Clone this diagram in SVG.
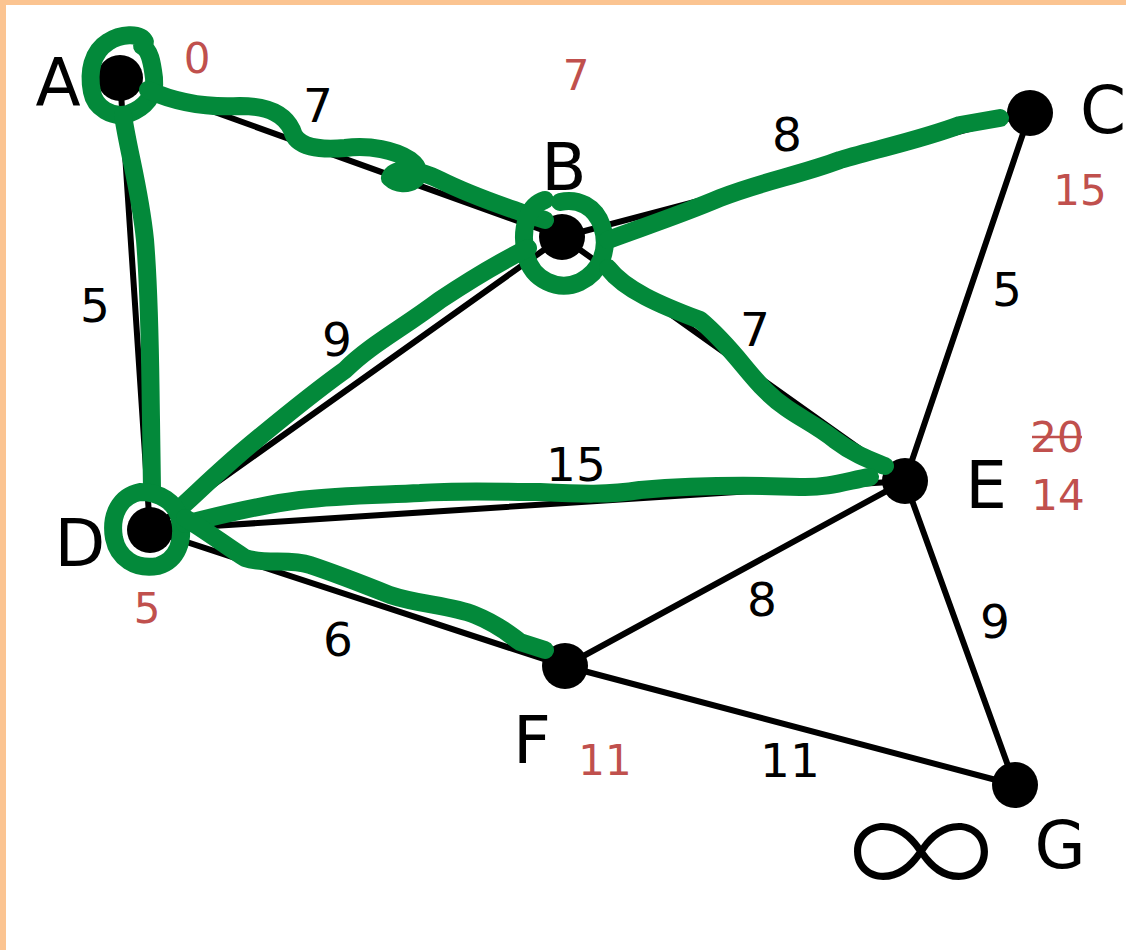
<svg xmlns="http://www.w3.org/2000/svg" width="1126" height="950" viewBox="0 0 1126 950">
<style>
.edge{stroke:#000;stroke-width:6;fill:none;stroke-linecap:round}
.node{fill:#000}
.lbl{font-family:"DejaVu Sans",sans-serif;font-size:66px;fill:#000;text-anchor:middle}
.w{font-family:"DejaVu Sans",sans-serif;font-size:47px;fill:#000;text-anchor:middle}
.d{font-family:"DejaVu Sans",sans-serif;font-size:42px;fill:#C0504D;text-anchor:middle}
.g{stroke:#03893A;stroke-width:18;fill:none;stroke-linecap:round;stroke-linejoin:round}
</style>
<rect x="0" y="0" width="1126" height="950" fill="#fff"/>
<rect x="0" y="0" width="1126" height="5" fill="#FBC491"/>
<rect x="0" y="0" width="6" height="950" fill="#FBC491"/>
<g id="connectors">
<line class="edge" x1="120" y1="78" x2="562" y2="237"/>
<line class="edge" x1="120" y1="78" x2="150" y2="530"/>
<line class="edge" x1="562" y1="237" x2="1030" y2="113"/>
<line class="edge" x1="562" y1="237" x2="150" y2="530"/>
<line class="edge" x1="562" y1="237" x2="905" y2="481"/>
<line class="edge" x1="1030" y1="113" x2="905" y2="481"/>
<line class="edge" x1="150" y1="530" x2="905" y2="481"/>
<line class="edge" x1="150" y1="530" x2="565" y2="666"/>
<line class="edge" x1="905" y1="481" x2="565" y2="666"/>
<line class="edge" x1="905" y1="481" x2="1015" y2="785"/>
<line class="edge" x1="565" y1="666" x2="1015" y2="785"/>
</g>
<g id="node-A"><circle class="node" cx="120" cy="78" r="23"/><text class="lbl" x="58" y="105">A</text><text class="d" x="197" y="73">0</text></g>
<g id="node-B"><circle class="node" cx="562" cy="237" r="23"/><text class="lbl" x="564" y="190">B</text><text class="d" x="576" y="90">7</text></g>
<g id="node-C"><circle class="node" cx="1030" cy="113" r="23"/><text class="lbl" x="1103" y="133">C</text><text class="d" x="1080" y="205">15</text></g>
<g id="node-D"><circle class="node" cx="150" cy="530" r="23"/><text class="lbl" x="80" y="566">D</text><text class="d" x="147" y="623">5</text></g>
<g id="node-E"><circle class="node" cx="905" cy="481" r="23"/><text class="lbl" x="986" y="508">E</text><text class="d" x="1057" y="452">20</text><line x1="1032" y1="437" x2="1082" y2="437" stroke="#C0504D" stroke-width="2.5"/><text class="d" x="1058" y="510">14</text></g>
<g id="node-F"><circle class="node" cx="565" cy="666" r="23"/><text class="lbl" x="532" y="763">F</text><text class="d" x="605" y="775">11</text></g>
<g id="node-G"><circle class="node" cx="1015" cy="785" r="23"/><text class="lbl" x="1060" y="868">G</text><text x="921" y="906" font-family="'Noto Sans CJK SC',sans-serif" font-weight="300" font-size="145" text-anchor="middle" fill="#000">∞</text></g>
<g id="weights">
<text class="w" x="318" y="122">7</text>
<text class="w" x="787" y="151">8</text>
<text class="w" x="95" y="322">5</text>
<text class="w" x="337" y="356">9</text>
<text class="w" x="755" y="346">7</text>
<text class="w" x="1007" y="306">5</text>
<text class="w" x="576" y="481">15</text>
<text class="w" x="762" y="616">8</text>
<text class="w" x="995" y="638">9</text>
<text class="w" x="338" y="656">6</text>
<text class="w" x="790" y="777">11</text>
</g>
<g id="green-path">
<path class="g" d="M145 42 C140 32 120 34 108 42 C92 52 88 72 92 92 C95 108 112 118 128 114 C145 108 156 95 154 78 C152 62 150 50 142 46"/>
<path class="g" d="M148 90 C175 102 205 108 240 106 C270 106 285 115 292 130 C296 148 320 150 345 148 C370 145 395 150 410 160 C432 176 405 192 390 178 C395 166 420 170 440 180 C470 195 500 205 520 212 L545 220"/>
<path class="g" d="M123 115 C128 150 140 190 145 240 C150 300 150 360 151 420 L152 490"/>
<path class="g" d="M545 200 C528 205 520 228 526 255 C532 280 558 292 580 282 C600 272 610 250 602 226 C595 206 578 198 560 202"/>
<path class="g" d="M608 240 C640 228 680 215 720 198 C760 182 800 175 840 160 C880 148 920 140 960 125 L1000 118"/>
<path class="g" d="M528 248 C500 262 470 280 440 300 C400 330 370 345 345 370 C310 395 280 420 250 445 C220 470 200 490 178 510"/>
<path class="g" d="M608 268 C625 290 660 305 700 320 C730 345 745 370 765 390 C790 415 810 420 835 440 C855 455 870 460 885 466"/>
<path class="g" d="M140 492 C120 496 110 515 114 538 C118 558 135 570 158 566 C178 560 184 540 180 520 C176 502 160 492 140 492"/>
<path class="g" d="M185 524 C220 515 260 505 300 500 C340 495 380 495 420 493 C460 490 500 492 540 492 C580 494 610 495 640 490 C700 485 750 485 800 487 C830 488 850 480 870 477"/>
<path class="g" d="M185 518 C205 530 225 545 245 558 C265 565 290 558 310 565 C340 575 365 585 390 595 C420 605 450 605 475 615 C500 625 510 635 520 642 L545 650"/>
</g>
</svg>
